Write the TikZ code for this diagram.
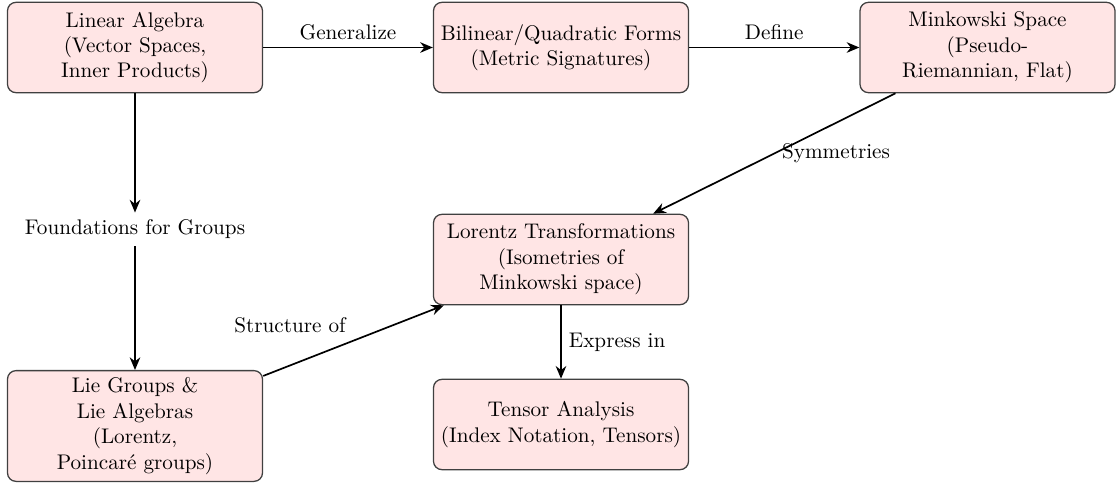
\documentclass[tikz,border=0pt]{standalone}
\usetikzlibrary{arrows.meta}
\begin{document}
\begin{tikzpicture}[x=0.4724pt, y=-0.4724pt,
  topic/.style={draw=black!75, line width=0.6pt, fill=red!10, rounded corners=4pt,
    text width=4cm, align=center, minimum height=1.5cm, inner sep=3.33pt},
  plain/.style={inner sep=3.33pt},
  conn/.style={thick, -{Stealth[length=6pt, width=5pt]}},
  lbl/.style={inner sep=3.33pt}]
\useasboundingbox (0,0) rectangle (1117,484);

\node[topic] (LA) at (135,47.5) {Linear Algebra\\(Vector Spaces,\\Inner Products)};
\node[topic] (BQ) at (561,47.5) {Bilinear/Quadratic Forms\\(Metric Signatures)};
\node[topic] (MS) at (987.5,47.5) {Minkowski Space\\(Pseudo-\\Riemannian, Flat)};
\node[topic] (LT) at (561,259.5) {Lorentz Transformations\\(Isometries of\\Minkowski space)};
\node[topic] (LG) at (135,426) {Lie Groups \&\\Lie Algebras\\(Lorentz,\\Poincar\'e groups)};
\node[topic] (TA) at (561,424.5) {Tensor Analysis\\(Index Notation, Tensors)};
\node[plain] (FG) at (135,229.5) {Foundations for Groups};

\draw[conn] (LA) -- node[lbl, above] (l1) {Generalize} (BQ);
\draw[conn] (BQ) -- node[lbl, above] (l2) {Define} (MS);
\draw[conn] (LA) -- (FG);
\draw[conn] (FG) -- (LG);
\draw[conn] (MS) -- node[lbl, right] (l3) {Symmetries} (LT);
\draw[conn] (LG) -- node[lbl, above left] (l4) {Structure of} (LT);
\draw[conn] (LT) -- node[lbl, right] (l5) {Express in} (TA);
\end{tikzpicture}
\end{document}
